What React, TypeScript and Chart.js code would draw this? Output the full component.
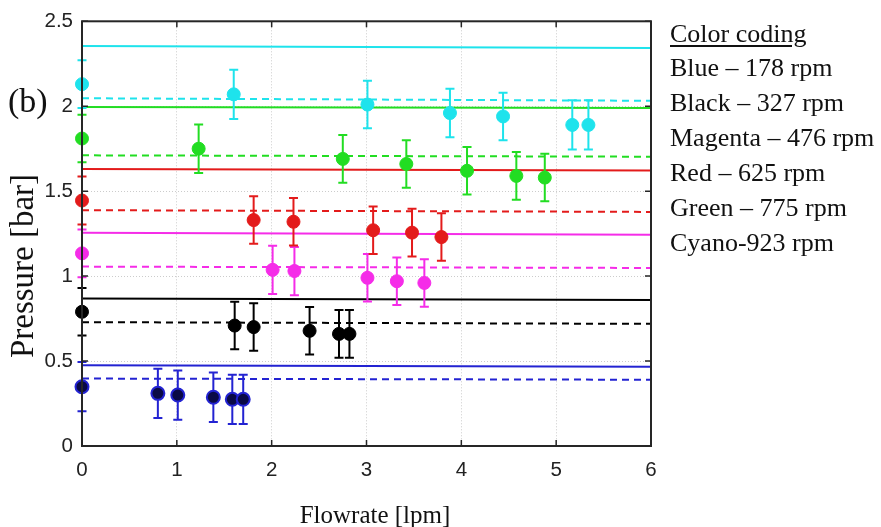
import React, { useEffect, useRef } from 'react';
import { Chart, registerables } from 'chart.js';

Chart.register(...registerables);

// ---- data ----
const xTickValues = [0, 1, 2, 3, 4, 5, 6];
const yTickValues = [0, 0.5, 1, 1.5, 2, 2.5];
const fitX = [0, 6];

const blueX = [0, 0.8, 1.01, 1.385, 1.585, 1.7];
const blueY = [0.349, 0.31, 0.3, 0.287, 0.275, 0.275];
const blueErr = [0.145, 0.145, 0.145, 0.145, 0.145, 0.145];
const blueFitSolid = [0.475, 0.467];
const blueFitDashed = [0.397, 0.39];

const blackX = [0, 1.61, 1.81, 2.4, 2.71, 2.82];
const blackY = [0.79, 0.709, 0.7, 0.678, 0.66, 0.66];
const blackErr = [0.14, 0.14, 0.14, 0.14, 0.14, 0.14];
const blackFitSolid = [0.868, 0.859];
const blackFitDashed = [0.729, 0.719];

const magentaX = [0, 2.01, 2.24, 3.01, 3.32, 3.61];
const magentaY = [1.134, 1.037, 1.03, 0.99, 0.97, 0.96];
const magentaErr = [0.14, 0.142, 0.142, 0.14, 0.14, 0.14];
const magentaFitSolid = [1.256, 1.244];
const magentaFitDashed = [1.056, 1.048];

const redX = [0, 1.81, 2.23, 3.07, 3.48, 3.79];
const redY = [1.445, 1.33, 1.32, 1.27, 1.256, 1.23];
const redErr = [0.141, 0.14, 0.14, 0.14, 0.14, 0.14];
const redFitSolid = [1.63, 1.622];
const redFitDashed = [1.388, 1.378];

const greenX = [0, 1.23, 2.75, 3.42, 4.06, 4.58, 4.88];
const greenY = [1.81, 1.75, 1.69, 1.66, 1.62, 1.59, 1.58];
const greenErr = [0.14, 0.143, 0.14, 0.14, 0.14, 0.14, 0.14];
const greenFitSolid = [1.996, 1.99];
const greenFitDashed = [1.711, 1.703];

const cyanX = [0, 1.6, 3.01, 3.88, 4.44, 5.17, 5.34];
const cyanY = [2.13, 2.07, 2.01, 1.96, 1.94, 1.89, 1.89];
const cyanErr = [0.14, 0.145, 0.14, 0.143, 0.14, 0.145, 0.145];
const cyanFitSolid = [2.355, 2.343];
const cyanFitDashed = [2.047, 2.032];

const legendTitle = 'Color coding';
const legendLines = [
  'Blue – 178 rpm',
  'Black – 327 rpm',
  'Magenta – 476 rpm',
  'Red – 625 rpm',
  'Green – 775 rpm',
  'Cyano-923 rpm',
];

const xTitle = 'Flowrate [lpm]';
const yTitle = 'Pressure [bar]';
const panelLabel = '(b)';

// ---- styles ----
const COLORS = {
  blue: '#2323d2',
  blueFill: '#0a0a46',
  black: '#000000',
  magenta: '#f52ce8',
  red: '#e31b1b',
  green: '#22dd22',
  cyan: '#1ee3ec',
};

const pts = (xs: number[], ys: number[]) => xs.map((x, i) => ({ x, y: ys[i] }));

function scatterDs(xs: number[], ys: number[], errs: number[], color: string, fill?: string) {
  return {
    type: 'scatter' as const,
    data: pts(xs, ys),
    errors: errs,
    errColor: color,
    backgroundColor: fill || color,
    borderColor: color,
    borderWidth: fill ? 2 : 1,
    pointRadius: 6.5,
    pointHoverRadius: 6.5,
    clip: false as any,
    showLine: false,
  };
}

function lineDs(vals: number[], color: string, dashed: boolean) {
  return {
    type: 'line' as const,
    data: pts(fitX, vals),
    borderColor: color,
    backgroundColor: color,
    borderWidth: 2,
    borderDash: dashed ? [7, 5] : [],
    pointRadius: 0,
    fill: false,
    tension: 0,
  };
}

const errorBarPlugin = {
  id: 'errorBars',
  beforeDatasetDraw(chart: any, args: any) {
    const ds = chart.data.datasets[args.index];
    if (!ds.errors) return;
    const ctx = chart.ctx;
    const yScale = chart.scales.y;
    ctx.save();
    ctx.strokeStyle = ds.errColor;
    ctx.lineWidth = 2;
    args.meta.data.forEach((el: any, i: number) => {
      const v = ds.data[i].y;
      const e = ds.errors[i];
      const x = el.x;
      const yt = yScale.getPixelForValue(v + e);
      const yb = yScale.getPixelForValue(v - e);
      ctx.beginPath();
      ctx.moveTo(x, yt);
      ctx.lineTo(x, yb);
      ctx.moveTo(x - 4.5, yt);
      ctx.lineTo(x + 4.5, yt);
      ctx.moveTo(x - 4.5, yb);
      ctx.lineTo(x + 4.5, yb);
      ctx.stroke();
    });
    ctx.restore();
  },
};

const framePlugin = {
  id: 'frame',
  afterDatasetsDraw(chart: any) {
    const { ctx, chartArea: a, scales } = chart;
    ctx.save();
    ctx.strokeStyle = '#262626';
    ctx.lineWidth = 2;
    ctx.strokeRect(a.left, a.top, a.right - a.left, a.bottom - a.top);
    ctx.lineWidth = 1.5;
    ctx.beginPath();
    const L = 6;
    xTickValues.forEach((v) => {
      const px = scales.x.getPixelForValue(v);
      ctx.moveTo(px, a.top);
      ctx.lineTo(px, a.top + L);
      ctx.moveTo(px, a.bottom);
      ctx.lineTo(px, a.bottom - L);
    });
    yTickValues.forEach((v) => {
      const py = scales.y.getPixelForValue(v);
      ctx.moveTo(a.left, py);
      ctx.lineTo(a.left + L, py);
      ctx.moveTo(a.right, py);
      ctx.lineTo(a.right - L, py);
    });
    ctx.stroke();
    ctx.restore();
  },
};

const tickFont = { family: "'Liberation Sans', Arial, sans-serif", size: 20.5 };
const fmt = (v: any) => String(Number(v));

export default function App() {
  const canvasRef = useRef<HTMLCanvasElement | null>(null);

  useEffect(() => {
    if (!canvasRef.current) return;
    const chart = new Chart(canvasRef.current, {
      type: 'scatter',
      data: {
        datasets: [
          scatterDs(cyanX, cyanY, cyanErr, COLORS.cyan),
          scatterDs(greenX, greenY, greenErr, COLORS.green),
          scatterDs(redX, redY, redErr, COLORS.red),
          scatterDs(magentaX, magentaY, magentaErr, COLORS.magenta),
          scatterDs(blackX, blackY, blackErr, COLORS.black),
          scatterDs(blueX, blueY, blueErr, COLORS.blue, COLORS.blueFill),
          lineDs(cyanFitSolid, COLORS.cyan, false),
          lineDs(cyanFitDashed, COLORS.cyan, true),
          lineDs(greenFitSolid, COLORS.green, false),
          lineDs(greenFitDashed, COLORS.green, true),
          lineDs(redFitSolid, COLORS.red, false),
          lineDs(redFitDashed, COLORS.red, true),
          lineDs(magentaFitSolid, COLORS.magenta, false),
          lineDs(magentaFitDashed, COLORS.magenta, true),
          lineDs(blackFitSolid, COLORS.black, false),
          lineDs(blackFitDashed, COLORS.black, true),
          lineDs(blueFitSolid, COLORS.blue, false),
          lineDs(blueFitDashed, COLORS.blue, true),
        ] as any,
      },
      options: {
        animation: false,
        responsive: true,
        maintainAspectRatio: false,
        layout: { padding: { left: 0, top: 16, right: 230, bottom: 41 } },
        plugins: { legend: { display: false }, tooltip: { enabled: false } },
        events: [],
        scales: {
          x: {
            type: 'linear',
            min: 0,
            max: 6,
            afterFit: (s: any) => { s.height = 40; },
            afterBuildTicks: (s: any) => { s.ticks = xTickValues.map((v) => ({ value: v })); },
            ticks: { stepSize: 1, font: tickFont, color: '#222', padding: 12, callback: fmt },
            grid: { color: '#cccccc', lineWidth: 1, drawTicks: false },
            border: { display: false, dash: [1, 2] },
          },
          y: {
            type: 'linear',
            min: 0,
            max: 2.5,
            afterFit: (s: any) => { s.width = 82; },
            afterBuildTicks: (s: any) => { s.ticks = yTickValues.map((v) => ({ value: v })); },
            ticks: { stepSize: 0.5, font: tickFont, color: '#222', padding: 9, callback: fmt },
            grid: { color: '#cccccc', lineWidth: 1, drawTicks: false },
            border: { display: false, dash: [1, 2] },
          },
        },
      } as any,
      plugins: [errorBarPlugin, framePlugin],
    });
    return () => chart.destroy();
  }, []);

  const serif = "'Liberation Serif', 'Times New Roman', serif";
  const legendTops = [55, 90, 125, 160, 195, 230];

  return (
    <div style={{ position: 'absolute', left: 0, top: 0, width: 881, height: 527, background: '#fff', overflow: 'hidden' }}>
      <canvas ref={canvasRef} />
      <div
        style={{
          position: 'absolute', left: 8, top: 101, transform: 'translateY(-50%)',
          fontFamily: serif, fontSize: 34, lineHeight: '34px', color: '#111', whiteSpace: 'nowrap',
        }}
      >
        {panelLabel}
      </div>
      <div
        style={{
          position: 'absolute', left: 22, top: 266, transform: 'translate(-50%, -50%) rotate(-90deg)',
          fontFamily: serif, fontSize: 33, lineHeight: '33px', color: '#111', whiteSpace: 'nowrap',
        }}
      >
        {yTitle}
      </div>
      <div
        style={{
          position: 'absolute', left: 375, top: 514, transform: 'translate(-50%, -50%)',
          fontFamily: serif, fontSize: 25, lineHeight: '25px', color: '#111', whiteSpace: 'nowrap',
        }}
      >
        {xTitle}
      </div>
      <div
        style={{
          position: 'absolute', left: 670, top: 21, fontFamily: serif, fontSize: 26, lineHeight: '26px',
          color: '#111', whiteSpace: 'nowrap', textDecoration: 'underline', textUnderlineOffset: '3px',
        }}
      >
        {legendTitle}
      </div>
      {legendLines.map((t, i) => (
        <div
          key={t}
          style={{
            position: 'absolute', left: 670, top: legendTops[i], fontFamily: serif, fontSize: 26,
            lineHeight: '26px', color: '#111', whiteSpace: 'nowrap',
          }}
        >
          {t}
        </div>
      ))}
    </div>
  );
}
